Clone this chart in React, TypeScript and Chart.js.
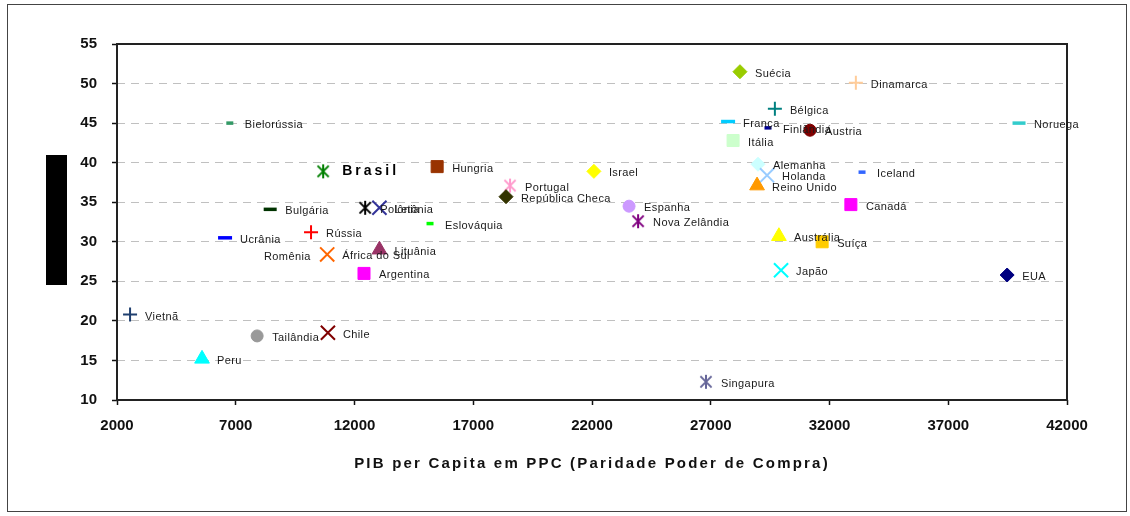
import { useEffect, useRef } from "react";
import { Chart, registerables } from "chart.js";

Chart.register(...registerables);

// ---------- data ----------
const countries = [
  "Vietnã", "Peru", "Tailândia", "Chile", "Bielorússia", "Brasil", "Hungria", "Bulgária",
  "Polônia", "Letônia", "Ucrânia", "Rússia", "Romênia", "África do Sul", "Lituânia", "Argentina",
  "Eslováquia", "Portugal", "República Checa", "Israel", "Espanha", "Nova Zelândia", "Singapura",
  "Suécia", "Dinamarca", "Bélgica", "França", "Finlândia", "Áustria", "Itália", "Alemanha",
  "Holanda", "Reino Unido", "Iceland", "Canadá", "Noruega", "Austrália", "Suíça", "Japão", "EUA",
];
const gdpPpc = [
  2550, 5580, 7900, 10880, 6750, 10680, 15480, 8450,
  12450, 13050, 6550, 10170, 10750, 10850, 13050, 12400,
  15180, 18550, 18380, 22080, 23560, 23940, 26800,
  28230, 33110, 29700, 27730, 29410, 31180, 27940, 28990,
  29370, 28950, 33370, 32900, 39980, 29870, 31690, 29960, 39480,
];
const indexValues = [
  20.8, 15.2, 18.1, 18.5, 45.0, 38.9, 39.5, 34.1,
  34.3, 34.3, 30.5, 31.2, 28.3, 28.4, 29.0, 26.0,
  32.3, 37.1, 35.7, 38.9, 34.5, 32.6, 12.3,
  51.5, 50.1, 46.8, 45.2, 44.4, 44.1, 42.8, 39.8,
  38.4, 37.1, 38.8, 34.7, 45.0, 30.7, 30.0, 26.4, 25.8,
];
const xTickValues = [2000, 7000, 12000, 17000, 22000, 27000, 32000, 37000, 42000];
const yTickValues = [10, 15, 20, 25, 30, 35, 40, 45, 50, 55];
const xAxisTitle = "PIB per Capita em PPC (Paridade Poder de Compra)";

// ---------- styles ----------
const markerShapes = [
  "cross", "triangle", "circle", "crossRot", "line", "asterisk", "rect", "line",
  "asterisk", "crossRot", "line", "cross", "none", "crossRot", "triangle", "rect",
  "line", "asterisk", "rectRot", "rectRot", "circle", "asterisk", "asterisk",
  "rectRot", "cross", "cross", "line", "line", "circle", "rect", "rectRot",
  "crossRot", "triangle", "line", "rect", "line", "triangle", "rect", "crossRot", "rectRot",
];
const markerColors = [
  "#1F3F6F", "#00FFFF", "#999999", "#800000", "#339966", "#008000", "#993300", "#003300",
  "#000000", "#333399", "#0000FF", "#FF0000", "#FFFFFF", "#FF6600", "#993366", "#FF00FF",
  "#00FF00", "#FF99CC", "#333300", "#FFFF00", "#CC99FF", "#800080", "#666699",
  "#99CC00", "#FFCC99", "#008080", "#00CCFF", "#000099", "#800000", "#CCFFCC", "#CCFFFF",
  "#99CCFF", "#FF9900", "#3366FF", "#FF00FF", "#33CCCC", "#FFFF00", "#FFCC00", "#00FFFF", "#000080",
];
const dashHalfWidth = [
  0, 0, 0, 0, 3.5, 0, 0, 6.5,
  0, 0, 7, 0, 0, 0, 0, 0,
  3.5, 0, 0, 0, 0, 0, 0,
  0, 0, 0, 7, 3.5, 0, 0, 0,
  0, 0, 3.5, 0, 6.5, 0, 0, 0, 0,
];

const FONT = "'Liberation Sans', Arial, sans-serif";

function makeAsterisk(color: string, size: number): HTMLCanvasElement {
  const c = document.createElement("canvas");
  c.width = size;
  c.height = size;
  const g = c.getContext("2d")!;
  g.strokeStyle = color;
  g.lineWidth = 2;
  const m = size / 2;
  const r = size / 2 - 1;
  const d = r * 0.8;
  g.beginPath();
  g.moveTo(m - d, m - d);
  g.lineTo(m + d, m + d);
  g.moveTo(m + d, m - d);
  g.lineTo(m - d, m + d);
  g.moveTo(m, m - r);
  g.lineTo(m, m + r);
  g.stroke();
  return c;
}

function pointStyleFor(i: number): any {
  const s = markerShapes[i];
  if (s === "asterisk") return makeAsterisk(markerColors[i], 16);
  if (s === "none") return "circle";
  return s;
}
function radiusFor(i: number): number {
  const s = markerShapes[i];
  switch (s) {
    case "cross": return 7;
    case "crossRot": return 10;
    case "triangle": return 8.5;
    case "circle": return 6;
    case "rect": return 8.5;
    case "rectRot": return 7;
    case "line": return dashHalfWidth[i];
    case "none": return 0;
    default: return 7;
  }
}
function borderWidthFor(i: number): number {
  const s = markerShapes[i];
  if (s === "line") return 3.5;
  if (s === "cross" || s === "crossRot") return 2;
  return 1;
}

const decorPlugin = {
  id: "decor",
  beforeDraw(chart: any) {
    const { ctx, width, height } = chart;
    ctx.save();
    ctx.fillStyle = "#ffffff";
    ctx.fillRect(0, 0, width, height);
    ctx.restore();
  },
  afterDraw(chart: any) {
    const { ctx, chartArea } = chart;
    ctx.save();
    // outer border
    ctx.strokeStyle = "#444";
    ctx.lineWidth = 1;
    ctx.strokeRect(7.5, 4.5, 1119, 507);
    // plot frame
    ctx.strokeStyle = "#222";
    ctx.lineWidth = 2;
    ctx.strokeRect(chartArea.left, chartArea.top, chartArea.right - chartArea.left, chartArea.bottom - chartArea.top);
    // redacted axis title bar
    ctx.fillStyle = "#000";
    ctx.fillRect(46, 155, 21, 130);
    // x axis title
    ctx.fillStyle = "#111";
    ctx.font = `bold 15px ${FONT}`;
    (ctx as any).letterSpacing = "2.2px";
    ctx.textAlign = "center";
    ctx.textBaseline = "middle";
    ctx.fillText(xAxisTitle, (chartArea.left + chartArea.right) / 2, 464);
    // point labels
    const meta = chart.getDatasetMeta(0);
    ctx.textBaseline = "middle";
    meta.data.forEach((pt: any, i: number) => {
      const name = countries[i];
      if (name === "Brasil") {
        ctx.font = `bold 14px ${FONT}`;
        (ctx as any).letterSpacing = "3px";
        ctx.textAlign = "left";
        ctx.fillStyle = "#000";
        ctx.fillText(name, pt.x + 19, pt.y);
        return;
      }
      ctx.font = `11px ${FONT}`;
      (ctx as any).letterSpacing = "0.4px";
      ctx.fillStyle = "#1a1a1a";
      if (name === "Romênia") {
        ctx.textAlign = "right";
        ctx.fillText(name, pt.x - 14, pt.y + 2);
      } else {
        ctx.textAlign = "left";
        ctx.fillText(name, pt.x + 15, pt.y + 2);
      }
    });
    ctx.restore();
  },
};

export default function App() {
  const canvasRef = useRef<HTMLCanvasElement | null>(null);

  useEffect(() => {
    const canvas = canvasRef.current;
    if (!canvas) return;
    const points = countries.map((_, i) => ({ x: gdpPpc[i], y: indexValues[i] }));
    const chart = new Chart(canvas, {
      type: "scatter",
      data: {
        datasets: [
          {
            label: "Países",
            data: points,
            pointStyle: countries.map((_, i) => pointStyleFor(i)),
            pointRadius: countries.map((_, i) => radiusFor(i)),
            pointBackgroundColor: markerColors,
            pointBorderColor: markerColors,
            pointBorderWidth: countries.map((_, i) => borderWidthFor(i)),
            showLine: false,
          } as any,
        ],
      },
      options: {
        animation: false,
        responsive: false,
        devicePixelRatio: 1,
        layout: { padding: { top: 44, right: 63, left: 0, bottom: 0 } },
        plugins: {
          legend: { display: false },
          tooltip: { enabled: false },
          title: { display: false },
        },
        scales: {
          x: {
            type: "linear",
            min: 2000,
            max: 42000,
            afterBuildTicks: (scale: any) => {
              scale.ticks = xTickValues.map((v) => ({ value: v }));
            },
            afterFit: (scale: any) => {
              scale.height = 116;
            },
            ticks: {
              color: "#111",
              font: { family: FONT, size: 15, weight: "bold" },
              padding: 12,
              maxRotation: 0,
              autoSkip: false,
              callback: (v: any) => String(v),
            },
            grid: {
              drawOnChartArea: false,
              drawTicks: true,
              tickLength: 5,
              tickColor: "#111",
              tickWidth: 1.5,
            },
            border: { display: false },
          },
          y: {
            type: "linear",
            min: 10,
            max: 55,
            afterBuildTicks: (scale: any) => {
              scale.ticks = yTickValues.map((v) => ({ value: v }));
            },
            afterFit: (scale: any) => {
              scale.width = 117;
            },
            ticks: {
              color: "#111",
              font: { family: FONT, size: 15, weight: "bold" },
              padding: 15,
              autoSkip: false,
              callback: (v: any) => String(v),
            },
            grid: {
              color: "#c0c0c0",
              lineWidth: 1,
              drawTicks: true,
              tickLength: 5,
              tickColor: "#111",
              tickWidth: 1.5,
              tickBorderDash: [],
            },
            border: { display: false, dash: [8, 6] },
          },
        },
      },
      plugins: [decorPlugin],
    });
    return () => chart.destroy();
  }, []);

  return (
    <div style={{ position: "fixed", left: 0, top: 0, width: 1130, height: 516, background: "#fff" }}>
      <canvas ref={canvasRef} width={1130} height={516} style={{ display: "block" }} />
    </div>
  );
}
